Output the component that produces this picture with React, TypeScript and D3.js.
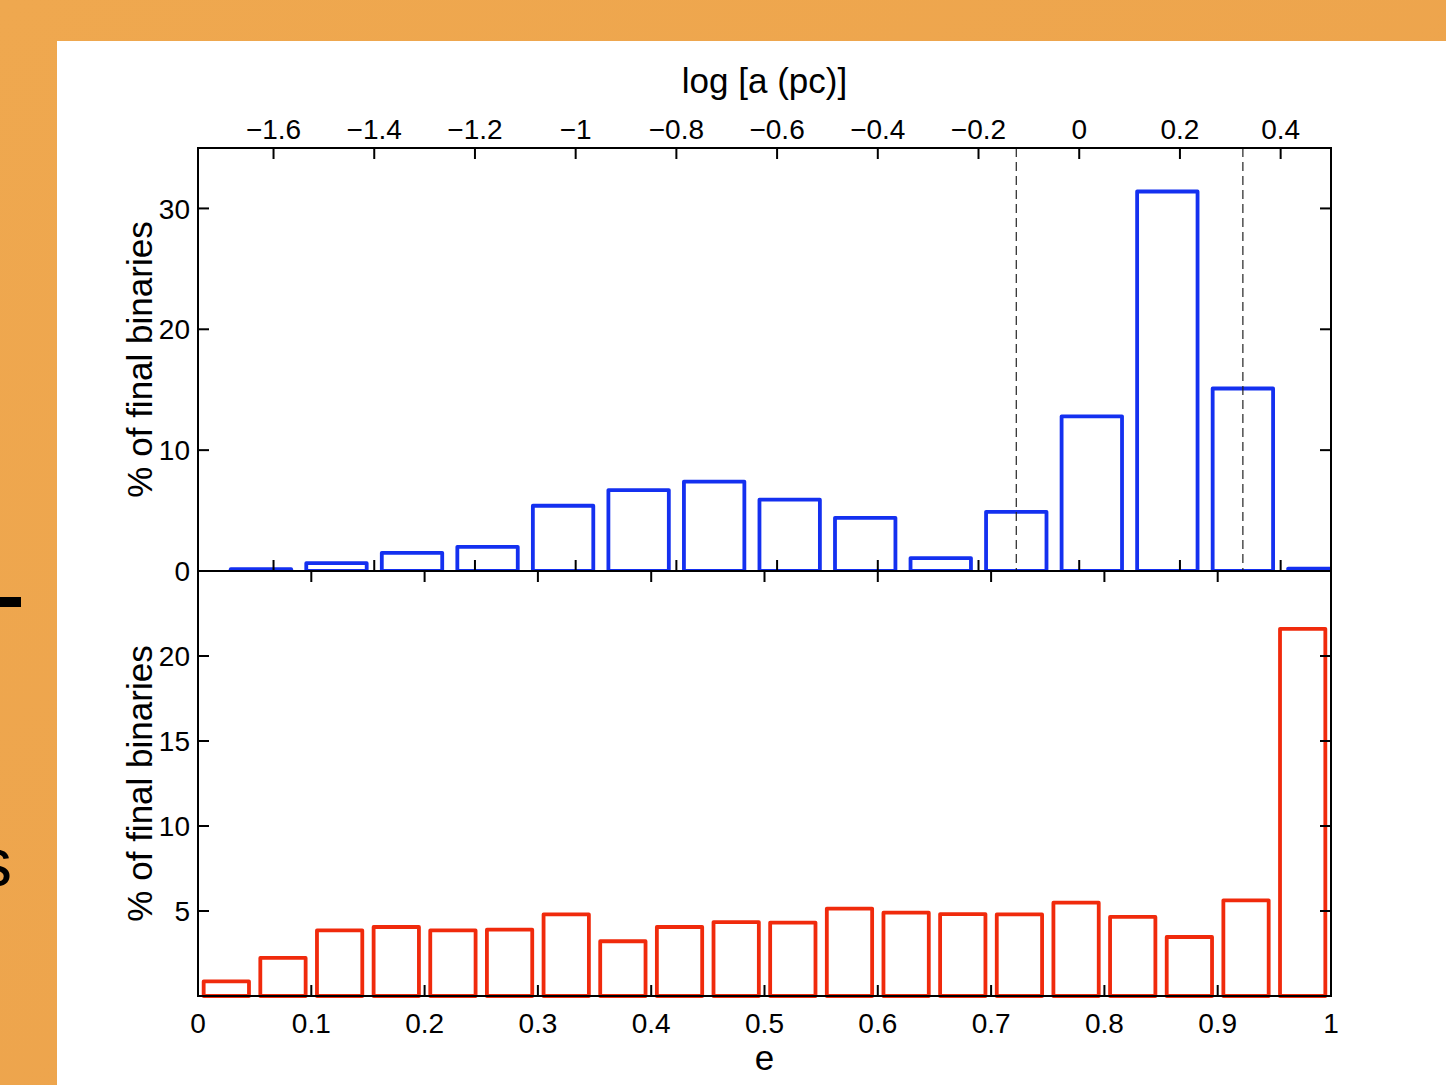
import React from "react";
import * as d3 from "d3";

// ---- data ----
const logACenters = [-1.625, -1.475, -1.325, -1.175, -1.025, -0.875, -0.725, -0.575, -0.425, -0.275, -0.125, 0.025, 0.175, 0.325, 0.475];
const logAValues = [0.15, 0.65, 1.5, 2.0, 5.4, 6.7, 7.4, 5.9, 4.4, 1.07, 4.9, 12.8, 31.4, 15.1, 0.2];
const eCenters = [0.025, 0.075, 0.125, 0.175, 0.225, 0.275, 0.325, 0.375, 0.425, 0.475, 0.525, 0.575, 0.625, 0.675, 0.725, 0.775, 0.825, 0.875, 0.925, 0.975];
const eValues = [0.86, 2.24, 3.86, 4.06, 3.86, 3.9, 4.8, 3.22, 4.06, 4.35, 4.32, 5.14, 4.9, 4.82, 4.8, 5.49, 4.65, 3.47, 5.63, 21.6];
const dashedLogA = [-0.125, 0.325];
const logATicks = [-1.6, -1.4, -1.2, -1, -0.8, -0.6, -0.4, -0.2, 0, 0.2, 0.4];
const eTicks = [0, 0.1, 0.2, 0.3, 0.4, 0.5, 0.6, 0.7, 0.8, 0.9, 1];
const topYTicks = [0, 10, 20, 30];
const botYTicks = [5, 10, 15, 20];
const topXLabel = "log [a (pc)]";
const bottomXLabel = "e";
const yLabel = "% of final binaries";

const FONT = "'Liberation Sans', Arial, Helvetica, sans-serif";
const BLUE = "#1430f0";
const RED = "#f02a0c";

const fmt = (v: number) => String(v).replace("-", "\u2212");

export default function App() {
  const L = 198, R = 1331, T = 148, M = 571, B = 996;
  const xLog = d3.scaleLinear().domain([-1.75, 0.5]).range([L, R]);
  const yTop = d3.scaleLinear().domain([0, 35]).range([M, T]);
  const xE = d3.scaleLinear().domain([0, 1]).range([L, R]);
  const yBot = d3.scaleLinear().domain([0, 25]).range([B, M]);
  const logBarW = 0.12;
  const eBarW = 0.04;
  const tickLen = 11;
  const TF = 28;
  const LF = 35;

  return (
    <svg width={1446} height={1085} style={{ position: "absolute", left: 0, top: 0 }} fontFamily={FONT}>
      <defs>
        <clipPath id="topClip">
          <rect x={L} y={T} width={R - L} height={M - T} />
        </clipPath>
        <linearGradient id="bg" x1="0" y1="0" x2="1" y2="1">
          <stop offset="0" stopColor="#efa84f" />
          <stop offset="1" stopColor="#eca24b" />
        </linearGradient>
      </defs>
      <rect x={0} y={0} width={1446} height={1085} fill="url(#bg)" />
      <rect x={57} y={41} width={1446 - 57} height={1085 - 41} fill="#ffffff" />
      {/* cropped slide text at the left edge */}
      <rect x={0} y={597} width={21} height={10} fill="#000" />
      <text x={-22} y={886} fontSize={68} fill="#000" fontFamily={FONT}>s</text>

      {/* top panel bars */}
      <g clipPath="url(#topClip)">
        {logACenters.map((c, i) => (
          <rect key={i} x={xLog(c - logBarW / 2)} y={yTop(logAValues[i])}
            width={xLog(c + logBarW / 2) - xLog(c - logBarW / 2)} height={yTop(0) - yTop(logAValues[i])}
            fill="none" stroke={BLUE} strokeWidth={3.8} strokeLinejoin="round" />
        ))}
        {dashedLogA.map((v, i) => (
          <line key={i} x1={xLog(v)} x2={xLog(v)} y1={T} y2={M} stroke="#222" strokeWidth={1.2} strokeDasharray="9,5" />
        ))}
      </g>

      {/* bottom panel bars */}
      {eCenters.map((c, i) => (
        <rect key={i} x={xE(c - eBarW / 2)} y={yBot(eValues[i])}
          width={xE(c + eBarW / 2) - xE(c - eBarW / 2)} height={yBot(0) - yBot(eValues[i])}
          fill="none" stroke={RED} strokeWidth={3.8} strokeLinejoin="round" />
      ))}

      {/* frames */}
      <rect x={L} y={T} width={R - L} height={M - T} fill="none" stroke="#000" strokeWidth={2} />
      <rect x={L} y={M} width={R - L} height={B - M} fill="none" stroke="#000" strokeWidth={2} />

      {/* top panel x ticks (log a) */}
      {logATicks.map((v, i) => (
        <g key={i}>
          <line x1={xLog(v)} x2={xLog(v)} y1={T} y2={T + tickLen} stroke="#000" strokeWidth={2} />
          <line x1={xLog(v)} x2={xLog(v)} y1={M} y2={M - tickLen} stroke="#000" strokeWidth={2} />
          <text x={xLog(v)} y={139} textAnchor="middle" fontSize={TF} fill="#000">{fmt(v)}</text>
        </g>
      ))}
      {/* top panel y ticks */}
      {topYTicks.map((v, i) => (
        <g key={i}>
          {v > 0 && <line x1={L} x2={L + tickLen} y1={yTop(v)} y2={yTop(v)} stroke="#000" strokeWidth={2} />}
          {v > 0 && <line x1={R} x2={R - tickLen} y1={yTop(v)} y2={yTop(v)} stroke="#000" strokeWidth={2} />}
          <text x={190} y={yTop(v)} dy="0.36em" textAnchor="end" fontSize={TF} fill="#000">{fmt(v)}</text>
        </g>
      ))}

      {/* bottom panel x ticks (e) */}
      {eTicks.map((v, i) => (
        <g key={i}>
          {v > 0 && v < 1 && <line x1={xE(v)} x2={xE(v)} y1={M} y2={M + tickLen} stroke="#000" strokeWidth={2} />}
          {v > 0 && v < 1 && <line x1={xE(v)} x2={xE(v)} y1={B} y2={B - tickLen} stroke="#000" strokeWidth={2} />}
          <text x={xE(v)} y={1033} textAnchor="middle" fontSize={TF} fill="#000">{fmt(v)}</text>
        </g>
      ))}
      {/* bottom panel y ticks */}
      {botYTicks.map((v, i) => (
        <g key={i}>
          <line x1={L} x2={L + tickLen} y1={yBot(v)} y2={yBot(v)} stroke="#000" strokeWidth={2} />
          <line x1={R} x2={R - tickLen} y1={yBot(v)} y2={yBot(v)} stroke="#000" strokeWidth={2} />
          <text x={190} y={yBot(v)} dy="0.36em" textAnchor="end" fontSize={TF} fill="#000">{fmt(v)}</text>
        </g>
      ))}

      {/* axis labels */}
      <text x={(L + R) / 2} y={93} textAnchor="middle" fontSize={LF} fill="#000">{topXLabel}</text>
      <text x={(L + R) / 2} y={1070} textAnchor="middle" fontSize={LF} fill="#000">{bottomXLabel}</text>
      <text transform={`translate(152,${(T + M) / 2}) rotate(-90)`} textAnchor="middle" fontSize={LF} fill="#000">{yLabel}</text>
      <text transform={`translate(152,${(M + B) / 2}) rotate(-90)`} textAnchor="middle" fontSize={LF} fill="#000">{yLabel}</text>
    </svg>
  );
}
